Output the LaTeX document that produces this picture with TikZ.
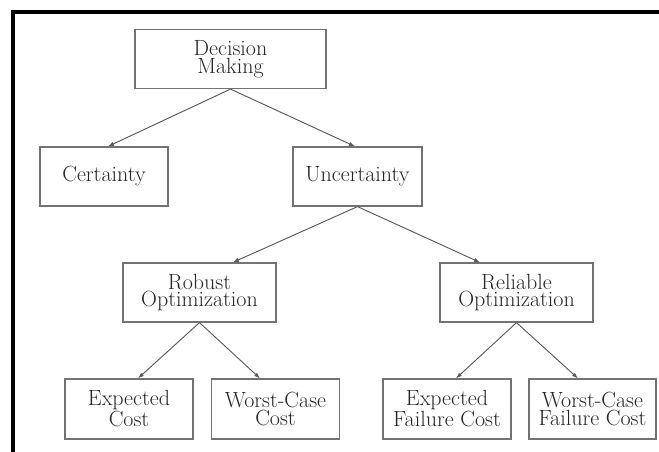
\documentclass[tikz,border=0pt]{standalone}
\usepackage{fontspec}
\setmainfont{Latin Modern Roman}
\usetikzlibrary{arrows.meta}
\begin{document}
\begin{tikzpicture}[x=0.75pt,y=-0.75pt,
  box/.style={draw=black!55,line width=0.9pt,rectangle,inner sep=0pt,
    minimum height=44.25pt,align=center,text=black!85,
    font=\fontsize{16.5}{13.2}\selectfont},
  link/.style={draw=black!65,line width=0.7pt,
    -{Latex[length=4.5pt,width=3.2pt]}}]
\useasboundingbox (0,0) rectangle (659,451);
\fill[white] (0,0) rectangle (659,451);
% frame
\draw[line width=3pt,line cap=rect] (13,455) -- (13,12) -- (665,12);

% nodes
\node[box,minimum width=143.25pt] (dm)   at (230.5,59)  {Decision\\Making};
\node[box,minimum width=96pt]     (cert) at (104,176.5) {Certainty};
\node[box,minimum width=96.75pt]  (unc)  at (357.5,176.5) {Uncertainty};
\node[box,minimum width=114.75pt] (rob)  at (199.5,292.5) {Robust\\Optimization};
\node[box,minimum width=114.75pt] (rel)  at (516.5,292.5) {Reliable\\Optimization};
\node[box,minimum width=96pt,minimum height=45pt]    (ec)   at (129,409)   {Expected\\Cost};
\node[box,minimum width=95.6pt,minimum height=45pt]  (wcc)  at (275.5,409) {Worst-Case\\Cost};
\node[box,minimum width=96pt,minimum height=45pt]    (efc)  at (447,409)   {Expected\\Failure Cost};
\node[box,minimum width=95.25pt,minimum height=45pt] (wcfc) at (592.5,409) {Worst-Case\\Failure Cost};

% connectors
\draw[link] (dm.south)  -- ([xshift=3pt]cert.north);
\draw[link] (dm.south)  -- ([xshift=-1.9pt]unc.north);
\draw[link] (unc.south) -- ([xshift=25pt]rob.north);
\draw[link] (unc.south) -- ([xshift=-27.4pt]rel.north);
\draw[link] (rob.south) -- ([xshift=6.75pt]ec.north);
\draw[link] (rob.south) -- ([xshift=-11.6pt]wcc.north);
\draw[link] (rel.south) -- ([xshift=6.75pt]efc.north);
\draw[link] (rel.south) -- ([xshift=-10.9pt]wcfc.north);
\end{tikzpicture}
\end{document}
